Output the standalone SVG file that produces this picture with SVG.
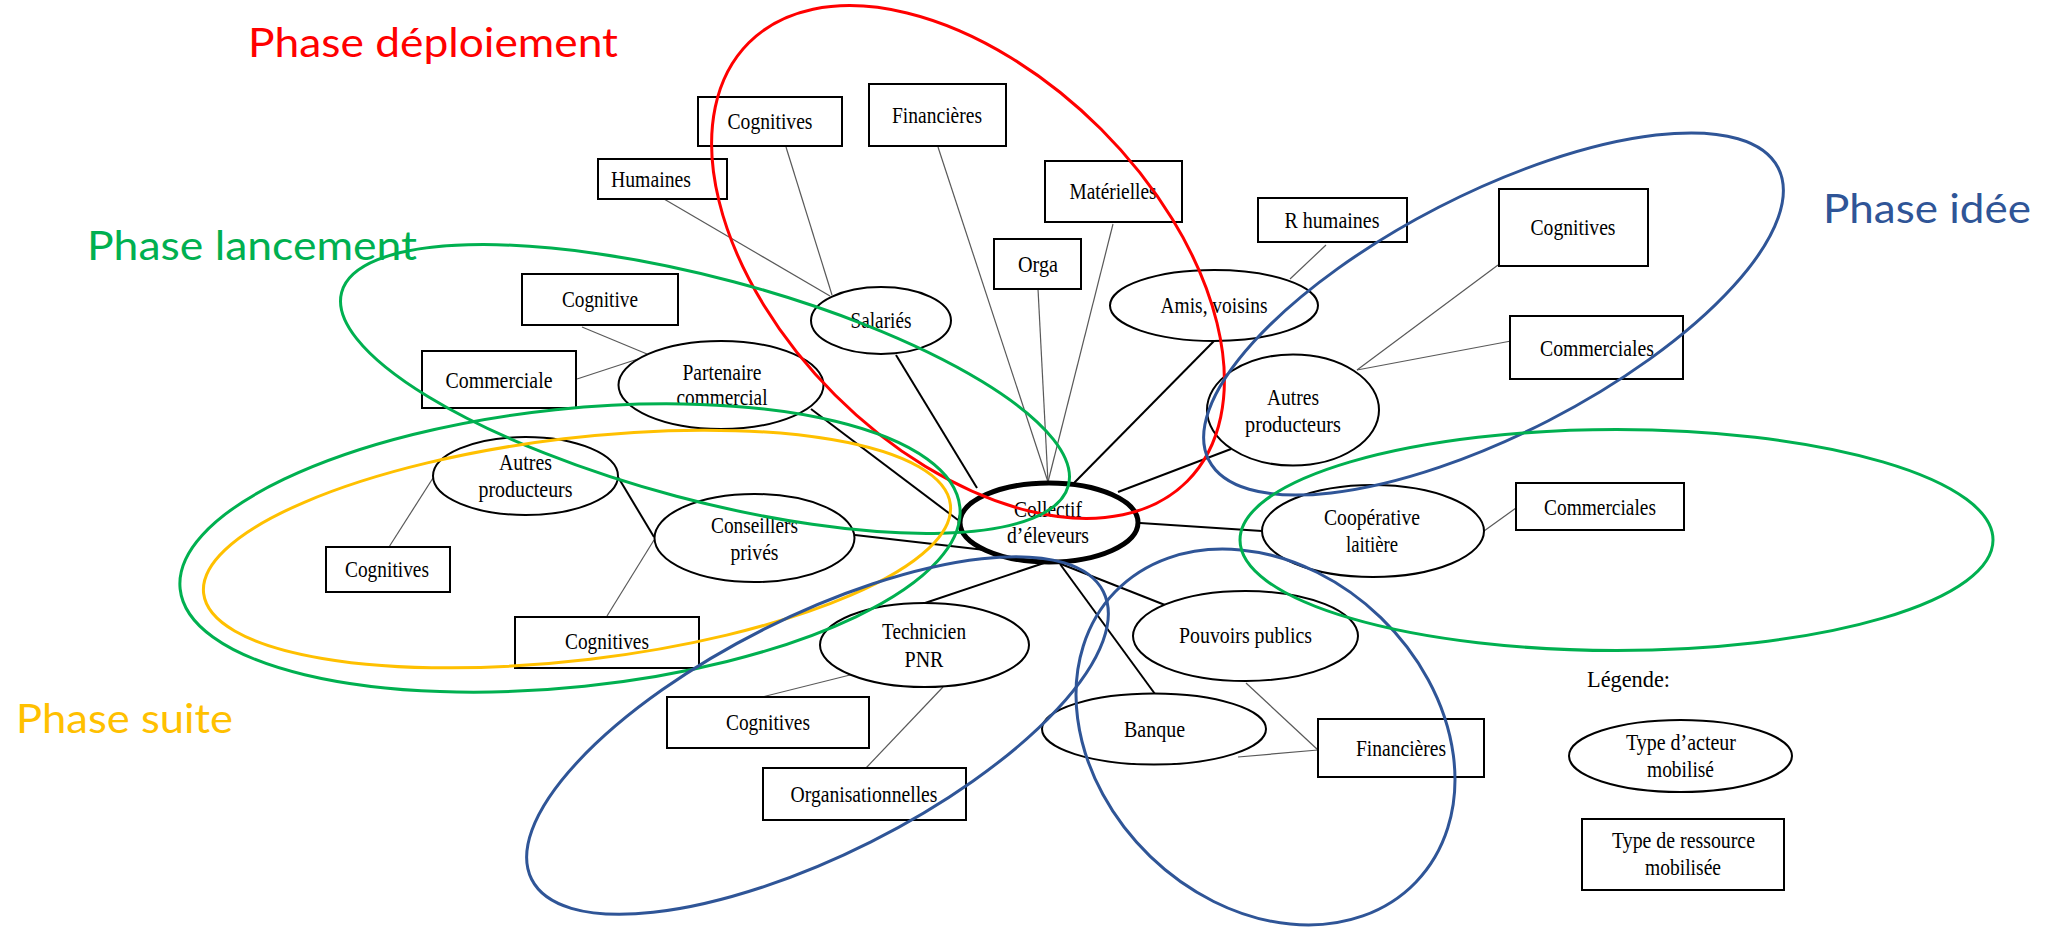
<svg xmlns="http://www.w3.org/2000/svg" width="2049" height="929" viewBox="0 0 2049 929">
<style>
.box{fill:#fff;stroke:#000;stroke-width:2}
.act{fill:#fff;stroke:#000;stroke-width:2}
.t{font-family:"Liberation Serif","Times New Roman",serif;font-size:23px;fill:#000;text-anchor:middle}
.tl{font-family:"Liberation Serif","Times New Roman",serif;font-size:23px;fill:#000}
.res{stroke:#595959;stroke-width:1.2;fill:none}
.lnk{stroke:#000;stroke-width:2;fill:none}
.ph{fill:none;stroke-width:3}
.pl{font-family:Lato,"Open Sans",sans-serif;font-size:41px}
</style>
<rect x="0" y="0" width="2049" height="929" fill="#fff"/>
<g id="connectors">
<line class="lnk" x1="896" y1="355" x2="977" y2="488"/>
<line class="lnk" x1="811" y1="409" x2="958" y2="520"/>
<line class="lnk" x1="1214" y1="341" x2="1074" y2="483"/>
<line class="lnk" x1="1231" y1="449" x2="1118" y2="492"/>
<line class="lnk" x1="1262" y1="531" x2="1140" y2="523"/>
<line class="lnk" x1="1061" y1="564" x2="1165" y2="605"/>
<line class="lnk" x1="1060" y1="564" x2="1155" y2="694"/>
<line class="lnk" x1="1044" y1="563" x2="925" y2="603"/>
<line class="lnk" x1="855" y1="535" x2="985" y2="550"/>
<line class="lnk" x1="618" y1="477" x2="654" y2="537"/>
<line class="res" x1="664" y1="199" x2="830" y2="296"/>
<line class="res" x1="786" y1="147" x2="832" y2="295"/>
<line class="res" x1="938" y1="147" x2="1048" y2="482"/>
<line class="res" x1="1038" y1="289" x2="1048" y2="482"/>
<line class="res" x1="1113" y1="224" x2="1048" y2="482"/>
<line class="res" x1="1326" y1="245" x2="1290" y2="279"/>
<line class="res" x1="1498" y1="265" x2="1357" y2="370"/>
<line class="res" x1="1511" y1="341" x2="1357" y2="370"/>
<line class="res" x1="582" y1="327" x2="647" y2="354"/>
<line class="res" x1="577" y1="379" x2="638" y2="359"/>
<line class="res" x1="389" y1="547" x2="433" y2="478"/>
<line class="res" x1="607" y1="616" x2="654" y2="540"/>
<line class="res" x1="762" y1="697" x2="850" y2="675"/>
<line class="res" x1="866" y1="768" x2="943" y2="687"/>
<line class="res" x1="1246" y1="683" x2="1318" y2="750"/>
<line class="res" x1="1238" y1="757" x2="1318" y2="750"/>
<line class="res" x1="1516" y1="508" x2="1484" y2="531"/>
</g>
<g id="r-cognitives-top"><rect class="box" x="698" y="97" width="144" height="49"/><text class="t" x="770" y="129" textLength="85" lengthAdjust="spacingAndGlyphs">Cognitives</text></g>
<g id="r-financieres-top"><rect class="box" x="869" y="84" width="137" height="62"/><text class="t" x="937" y="123" textLength="90" lengthAdjust="spacingAndGlyphs">Financières</text></g>
<g id="r-humaines"><rect class="box" x="598" y="159" width="129" height="40"/><text class="t" x="651" y="187" textLength="80" lengthAdjust="spacingAndGlyphs">Humaines</text></g>
<g id="r-materielles"><rect class="box" x="1045" y="161" width="137" height="61"/><text class="t" x="1113" y="199" textLength="87" lengthAdjust="spacingAndGlyphs">Matérielles</text></g>
<g id="r-orga"><rect class="box" x="994" y="239" width="87" height="50"/><text class="t" x="1038" y="272" textLength="40" lengthAdjust="spacingAndGlyphs">Orga</text></g>
<g id="r-rhumaines"><rect class="box" x="1258" y="198" width="149" height="44"/><text class="t" x="1332" y="228" textLength="95" lengthAdjust="spacingAndGlyphs">R humaines</text></g>
<g id="r-cognitives-right"><rect class="box" x="1499" y="189" width="149" height="77"/><text class="t" x="1573" y="235" textLength="85" lengthAdjust="spacingAndGlyphs">Cognitives</text></g>
<g id="r-commerciales-right"><rect class="box" x="1510" y="316" width="173" height="63"/><text class="t" x="1597" y="356" textLength="114" lengthAdjust="spacingAndGlyphs">Commerciales</text></g>
<g id="r-cognitive"><rect class="box" x="522" y="274" width="156" height="51"/><text class="t" x="600" y="307" textLength="76" lengthAdjust="spacingAndGlyphs">Cognitive</text></g>
<g id="r-commerciale"><rect class="box" x="422" y="351" width="154" height="57"/><text class="t" x="499" y="388" textLength="107" lengthAdjust="spacingAndGlyphs">Commerciale</text></g>
<g id="r-cognitives-left"><rect class="box" x="326" y="547" width="124" height="45"/><text class="t" x="387" y="577" textLength="84" lengthAdjust="spacingAndGlyphs">Cognitives</text></g>
<g id="r-cognitives-mid"><rect class="box" x="515" y="617" width="184" height="51"/><text class="t" x="607" y="649" textLength="84" lengthAdjust="spacingAndGlyphs">Cognitives</text></g>
<g id="r-cognitives-tech"><rect class="box" x="667" y="697" width="202" height="51"/><text class="t" x="768" y="730" textLength="84" lengthAdjust="spacingAndGlyphs">Cognitives</text></g>
<g id="r-organisationnelles"><rect class="box" x="763" y="768" width="203" height="52"/><text class="t" x="864" y="802" textLength="147" lengthAdjust="spacingAndGlyphs">Organisationnelles</text></g>
<g id="r-financieres-bottom"><rect class="box" x="1318" y="719" width="166" height="58"/><text class="t" x="1401" y="756" textLength="90" lengthAdjust="spacingAndGlyphs">Financières</text></g>
<g id="r-commerciales-coop"><rect class="box" x="1516" y="483" width="168" height="47"/><text class="t" x="1600" y="515" textLength="112" lengthAdjust="spacingAndGlyphs">Commerciales</text></g>
<g id="a-salaries"><ellipse class="act" cx="881" cy="320.5" rx="70" ry="33.5"/><text class="t" x="881" y="328" textLength="61" lengthAdjust="spacingAndGlyphs">Salariés</text></g>
<g id="a-partenaire"><ellipse class="act" cx="721" cy="385" rx="102.5" ry="44"/><text class="t" x="722" y="380" textLength="79" lengthAdjust="spacingAndGlyphs">Partenaire</text><text class="t" x="722" y="405" textLength="91" lengthAdjust="spacingAndGlyphs">commercial</text></g>
<g id="a-amis"><ellipse class="act" cx="1214" cy="305.5" rx="104" ry="35.5"/><text class="t" x="1214" y="313" textLength="107" lengthAdjust="spacingAndGlyphs">Amis, voisins</text></g>
<g id="a-autres-right"><ellipse class="act" cx="1293" cy="410" rx="86" ry="55.5"/><text class="t" x="1293" y="405" textLength="52" lengthAdjust="spacingAndGlyphs">Autres</text><text class="t" x="1293" y="432" textLength="96" lengthAdjust="spacingAndGlyphs">producteurs</text></g>
<g id="a-collectif"><ellipse cx="1049" cy="522.5" rx="89" ry="39.5" fill="#fff" stroke="#000" stroke-width="5"/><text class="t" x="1048" y="517" textLength="68" lengthAdjust="spacingAndGlyphs">Collectif</text><text class="t" x="1048" y="543" textLength="82" lengthAdjust="spacingAndGlyphs">d’éleveurs</text></g>
<g id="a-conseillers"><ellipse class="act" cx="754.5" cy="538" rx="100" ry="44"/><text class="t" x="754.5" y="533" textLength="87" lengthAdjust="spacingAndGlyphs">Conseillers</text><text class="t" x="754.5" y="560" textLength="48" lengthAdjust="spacingAndGlyphs">privés</text></g>
<g id="a-autres-left"><ellipse class="act" cx="525.5" cy="476" rx="92.5" ry="39"/><text class="t" x="525.5" y="470" textLength="53" lengthAdjust="spacingAndGlyphs">Autres</text><text class="t" x="525.5" y="497" textLength="94" lengthAdjust="spacingAndGlyphs">producteurs</text></g>
<g id="a-technicien"><ellipse class="act" cx="924.5" cy="645" rx="104.5" ry="42"/><text class="t" x="924" y="639" textLength="84" lengthAdjust="spacingAndGlyphs">Technicien</text><text class="t" x="924" y="667" textLength="39" lengthAdjust="spacingAndGlyphs">PNR</text></g>
<g id="a-pouvoirs"><ellipse class="act" cx="1245.5" cy="636" rx="112.5" ry="45"/><text class="t" x="1245.5" y="643" textLength="133" lengthAdjust="spacingAndGlyphs">Pouvoirs publics</text></g>
<g id="a-banque"><ellipse class="act" cx="1154" cy="729" rx="112" ry="35.5"/><text class="t" x="1154.5" y="737" textLength="61" lengthAdjust="spacingAndGlyphs">Banque</text></g>
<g id="a-cooperative"><ellipse class="act" cx="1373" cy="531" rx="111" ry="46"/><text class="t" x="1372" y="525" textLength="96" lengthAdjust="spacingAndGlyphs">Coopérative</text><text class="t" x="1372" y="552" textLength="52" lengthAdjust="spacingAndGlyphs">laitière</text></g>
<g id="legend">
<text class="tl" x="1587" y="687" textLength="83" lengthAdjust="spacingAndGlyphs">Légende:</text>
<ellipse class="act" cx="1680.5" cy="756" rx="111.5" ry="36"/>
<text class="t" x="1681" y="750" textLength="110" lengthAdjust="spacingAndGlyphs">Type d’acteur</text>
<text class="t" x="1680.5" y="777" textLength="67" lengthAdjust="spacingAndGlyphs">mobilisé</text>
<rect class="box" x="1582" y="819" width="202" height="71"/>
<text class="t" x="1683.5" y="848" textLength="143" lengthAdjust="spacingAndGlyphs">Type de ressource</text>
<text class="t" x="1683" y="875" textLength="76" lengthAdjust="spacingAndGlyphs">mobilisée</text>
</g>
<g id="phases">
<ellipse class="ph" stroke="#FF0000" cx="968" cy="262" rx="310" ry="188" transform="rotate(45 968 262)"/>
<ellipse class="ph" stroke="#00B050" cx="705" cy="389" rx="376" ry="111" transform="rotate(14.9 705 389)"/>
<ellipse class="ph" stroke="#00B050" cx="570" cy="548" rx="392" ry="139" transform="rotate(-6 570 548)"/>
<ellipse class="ph" stroke="#FFC000" cx="577" cy="549" rx="376" ry="111" transform="rotate(-6.8 577 549)"/>
<ellipse class="ph" stroke="#2F5597" cx="1493.5" cy="314" rx="320" ry="120" transform="rotate(-27.2 1493.5 314)"/>
<ellipse class="ph" stroke="#2F5597" cx="817.5" cy="735.5" rx="320" ry="119" transform="rotate(-26.7 817.5 735.5)"/>
<ellipse class="ph" stroke="#2F5597" cx="1265.5" cy="737" rx="209" ry="166" transform="rotate(44 1265.5 737)"/>
<ellipse class="ph" stroke="#00B050" cx="1616.5" cy="540" rx="376.5" ry="110.5"/>
</g>
<g id="phase-labels">
<text class="pl" fill="#FF0000" x="248" y="57" textLength="370" lengthAdjust="spacingAndGlyphs">Phase déploiement</text>
<text class="pl" fill="#00B050" x="87" y="260" textLength="330" lengthAdjust="spacingAndGlyphs">Phase lancement</text>
<text class="pl" fill="#2F5597" x="1823" y="223" textLength="208" lengthAdjust="spacingAndGlyphs">Phase idée</text>
<text class="pl" fill="#FFC000" x="16" y="733" textLength="217" lengthAdjust="spacingAndGlyphs">Phase suite</text>
</g>
</svg>
